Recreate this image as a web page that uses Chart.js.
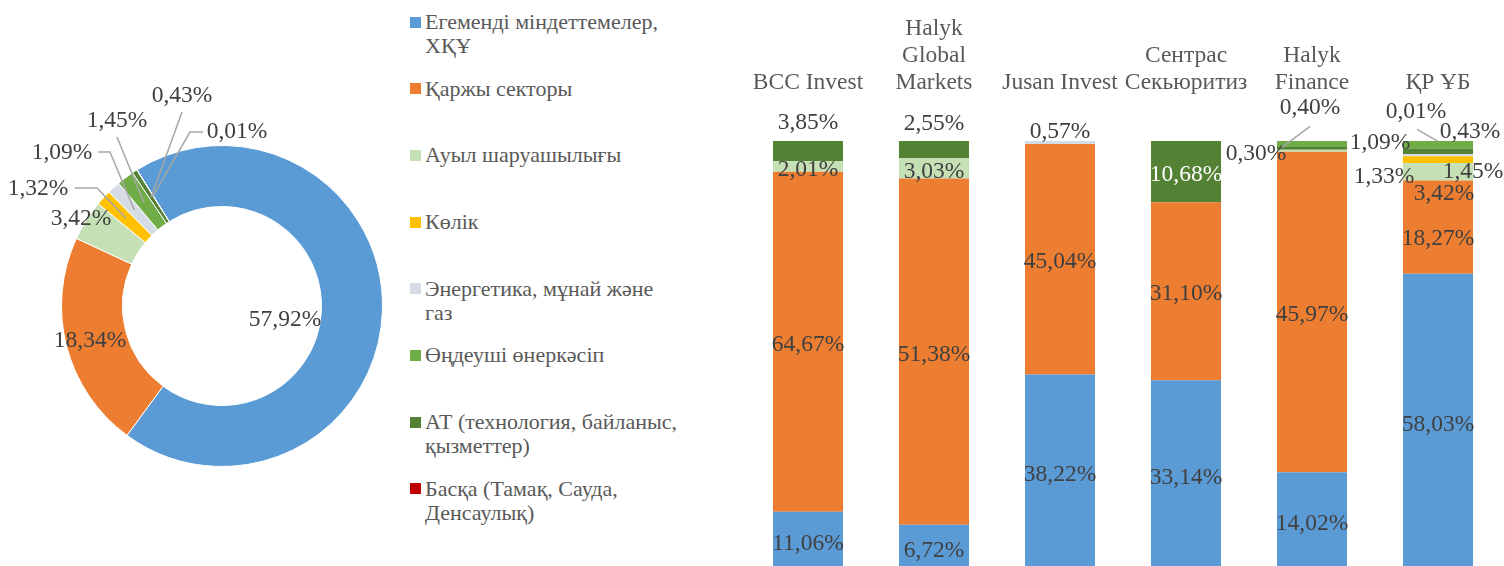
<!DOCTYPE html>
<html>
<head>
<meta charset="UTF-8">
<title>Портфель құрылымы</title>
<script src="https://cdn.jsdelivr.net/npm/chart.js"></script>
<style>
  html, body { margin: 0; padding: 0; background: #fff; overflow: hidden; }
  body { width: 1504px; height: 566px; position: relative; font-family: 'Liberation Serif', 'Times New Roman', serif; }
  #pieBox { position: absolute; left: 0; top: 0; width: 400px; height: 566px; }
  #barBox { position: absolute; left: 745px; top: 0; width: 759px; height: 570px; }
  #legend { position: absolute; left: 410px; top: 10px; color: #595959; font-size: 22px; }
  .item { position: relative; height: 66.7px; padding-left: 15px; line-height: 24px; white-space: nowrap; }
  .item i { position: absolute; left: 0; top: 6.5px; width: 11px; height: 11px; }
</style>
</head>
<body>
  <div id="pieBox"><canvas id="pie"></canvas></div>
  <div id="legend"></div>
  <div id="barBox"><canvas id="bars"></canvas></div>

<script>
// sectors (legend order) and their colours
const sectors = [
  ['Егеменді міндеттемелер,', 'ХҚҰ'],
  ['Қаржы секторы'],
  ['Ауыл шаруашылығы'],
  ['Көлік'],
  ['Энергетика, мұнай және', 'газ'],
  ['Өңдеуші өнеркәсіп'],
  ['АТ (технология, байланыс,', 'қызметтер)'],
  ['Басқа (Тамақ, Сауда,', 'Денсаулық)']
];
const sectorColors = ['#5B9BD5', '#ED7D31', '#C5E0B4', '#FFC000', '#D6DCE5', '#70AD47', '#548235', '#C00000'];

// donut: portfolio share by sector, %
const portfolioShare = [57.92, 18.34, 3.42, 1.32, 1.09, 1.45, 0.43, 0.01];

// columns: brokers
const brokers = ['BCC Invest', ['Halyk', 'Global', 'Markets'], 'Jusan Invest', ['Сентрас', 'Секьюритиз'], ['Halyk', 'Finance'], 'ҚР ҰБ'];

// column values per sector, %
const sovereign     = [11.06, 6.72, 38.22, 33.14, 14.02, 58.03];
const financial     = [64.67, 51.38, 45.04, 31.10, 45.97, 18.27];
const agriculture   = [2.01, 3.03, 0, 0, 0.30, 3.42];
const transport     = [0, 0, 0, 0, 0, 1.33];
const energy        = [0, 0, 0.57, 0, 0, 0.43];
const manufacturing = [0, 0, 0, 0, 0.85, 1.45];
const itServices    = [3.85, 2.55, 0, 10.68, 0.40, 1.09];
const other         = [0, 0, 0, 0, 0, 0.01];

const FONT = '"Liberation Serif", "Times New Roman", serif';
const LABEL_COLOR = '#404040';
const fmt = v => v.toFixed(2).replace('.', ',') + '%';

// legend
const legendEl = document.getElementById('legend');
sectors.forEach((lines, i) => {
  const d = document.createElement('div');
  d.className = 'item';
  d.innerHTML = '<i style="background:' + sectorColors[i] + '"></i>' + lines.join('<br>');
  legendEl.appendChild(d);
});

// donut label spots, relative to the donut centre; lead = leader start points relative to the label
const pieSpots = [
  { dx: 63, dy: 14 },
  { dx: -132, dy: 35 },
  { dx: -141, dy: -87 },
  { dx: -184, dy: -117, lead: [[37, -1], [59, -1]] },
  { dx: -160, dy: -153, lead: [[36, -1], [48, -1]] },
  { dx: -105, dy: -185, lead: [[0, 16]] },
  { dx: -40, dy: -210, lead: [[0, 16]] },
  { dx: 15, dy: -174, lead: [[-34, 0], [-47, 0]] }
];

const pieLabels = {
  id: 'pieLabels',
  afterDatasetsDraw(chart) {
    const ctx = chart.ctx;
    const arcs = chart.getDatasetMeta(0).data;
    const cx = arcs[0].x, cy = arcs[0].y;
    ctx.save();
    ctx.font = '23.5px ' + FONT;
    ctx.textAlign = 'center';
    ctx.textBaseline = 'middle';
    arcs.forEach((arc, i) => {
      const s = pieSpots[i];
      const lx = cx + s.dx, ly = cy + s.dy;
      if (s.lead) {
        const m = arc.getCenterPoint();
        ctx.strokeStyle = '#A6A6A6';
        ctx.lineWidth = 1.5;
        ctx.beginPath();
        s.lead.forEach((q, k) => k ? ctx.lineTo(lx + q[0], ly + q[1]) : ctx.moveTo(lx + q[0], ly + q[1]));
        ctx.lineTo(m.x, m.y);
        ctx.stroke();
      }
      ctx.fillStyle = LABEL_COLOR;
      ctx.fillText(fmt(portfolioShare[i]), lx, ly);
    });
    ctx.restore();
  }
};

new Chart(document.getElementById('pie'), {
  type: 'doughnut',
  data: {
    labels: sectors.map(s => s.join(' ')),
    datasets: [{
      data: portfolioShare,
      backgroundColor: sectorColors,
      borderColor: '#fff',
      borderWidth: 1
    }]
  },
  options: {
    responsive: true,
    maintainAspectRatio: false,
    animation: false,
    rotation: -32,
    cutout: '62%',
    layout: { padding: { left: 61, top: 145, right: 17, bottom: 99 } },
    plugins: { legend: { display: false }, tooltip: { enabled: false } }
  },
  plugins: [pieLabels]
});

// stacked 100% columns
const series = [
  { key: 'sov', values: sovereign, color: sectorColors[0], label: sectors[0].join(' ') },
  { key: 'fin', values: financial, color: sectorColors[1], label: sectors[1].join(' ') },
  { key: 'agr', values: agriculture, color: sectorColors[2], label: sectors[2].join(' ') },
  { key: 'trn', values: transport, color: sectorColors[3], label: sectors[3].join(' ') },
  { key: 'enr', values: energy, color: sectorColors[4], label: sectors[4].join(' ') },
  { key: 'it', values: itServices, color: sectorColors[6], label: sectors[6].join(' '), inside: '#ffffff' },
  { key: 'man', values: manufacturing, color: sectorColors[5], label: sectors[5].join(' ') },
  { key: 'oth', values: other, color: sectorColors[7], label: sectors[7].join(' '), minBar: 1.5 }
];
const colTotals = brokers.map((b, i) => series.reduce((s, d) => s + d.values[i], 0));

// moved labels: offset from segment centre; lead start relative to label, 'to' relative to segment centre
const barSpots = {
  'it:0': { dx: 0, dy: -28 },
  'it:1': { dx: 0, dy: -26 },
  'enr:2': { dx: 0, dy: -11 },
  'agr:4': { dx: -56, dy: 3 },
  'it:4': { dx: -2, dy: -40, lead: [0, 18], to: [-30, -1] },
  'man:4': { hide: true },
  'fin:5': { dx: 0, dy: 12 },
  'agr:5': { dx: 6, dy: 22 },
  'trn:5': { dx: -54, dy: 17 },
  'enr:5': { dx: 32, dy: -23 },
  'it:5': { dx: -58, dy: -8 },
  'man:5': { dx: 35, dy: 27 },
  'oth:5': { dx: -22, dy: -28, lead: [1, 17], to: [0, 1] }
};
const CENTER_SHIFT = 3; // in-bar labels sit a little below the middle

const barLabels = {
  id: 'barLabels',
  afterDatasetsDraw(chart) {
    const ctx = chart.ctx;
    ctx.save();
    ctx.font = '23.5px ' + FONT;
    ctx.textAlign = 'center';
    ctx.textBaseline = 'middle';
    series.forEach((s, di) => {
      chart.getDatasetMeta(di).data.forEach((bar, i) => {
        const v = s.values[i];
        if (!v) return;
        const spot = barSpots[s.key + ':' + i];
        if (spot && spot.hide) return;
        const c = bar.getCenterPoint();
        let x = c.x, y = c.y + CENTER_SHIFT, color = s.inside || LABEL_COLOR;
        if (spot) {
          x = c.x + spot.dx; y = c.y + spot.dy; color = LABEL_COLOR;
          if (spot.lead) {
            ctx.strokeStyle = '#A6A6A6';
            ctx.lineWidth = 1.5;
            ctx.beginPath();
            ctx.moveTo(x + spot.lead[0], y + spot.lead[1]);
            ctx.lineTo(c.x + spot.to[0], c.y + spot.to[1]);
            ctx.stroke();
          }
        }
        ctx.fillStyle = color;
        ctx.fillText(fmt(v), x, y);
      });
    });
    ctx.restore();
  }
};

new Chart(document.getElementById('bars'), {
  type: 'bar',
  data: {
    labels: brokers,
    datasets: series.map(s => ({
      label: s.label,
      data: s.values.map((v, i) => v ? v / colTotals[i] * 100 : null),
      backgroundColor: s.color,
      borderWidth: 0,
      minBarLength: s.minBar || 0,
      barPercentage: 0.556,
      categoryPercentage: 1
    }))
  },
  options: {
    responsive: true,
    maintainAspectRatio: false,
    animation: false,
    layout: { padding: { right: 3 } },
    plugins: { legend: { display: false }, tooltip: { enabled: false } },
    scales: {
      x: {
        stacked: true,
        position: 'top',
        grid: { display: false, drawTicks: false },
        border: { display: false },
        ticks: {
          color: '#595959',
          font: { family: FONT, size: 23.5, lineHeight: 1.15 },
          padding: 44.5,
          maxRotation: 0,
          autoSkip: false
        },
        afterFit: scale => {
          scale.height = 141;
          scale.paddingLeft = 0;
          scale.paddingRight = 0;
        }
      },
      y: { stacked: true, display: false, min: 0, max: 100 }
    }
  },
  plugins: [barLabels]
});
</script>
</body>
</html>
